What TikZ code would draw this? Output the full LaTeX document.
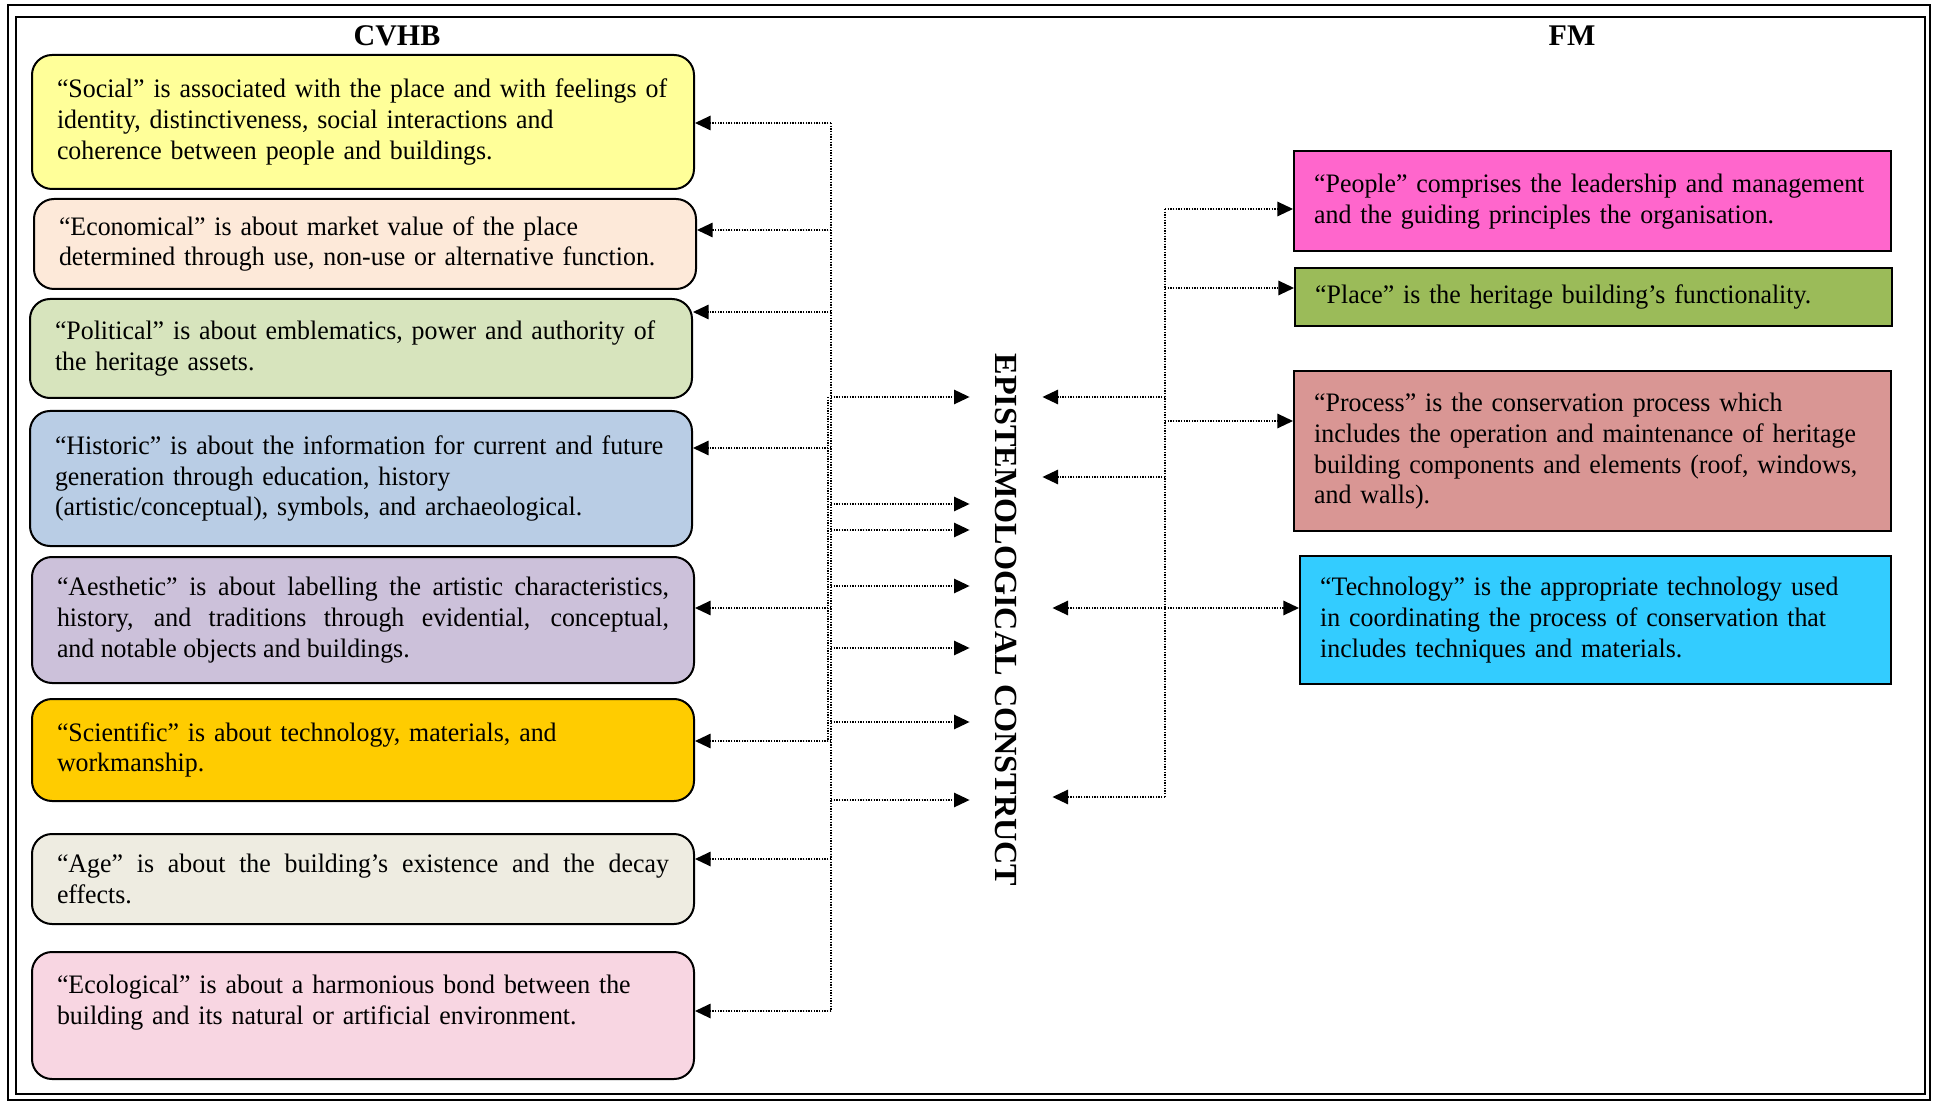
\documentclass[tikz,border=0pt]{standalone}
\usepackage{fontspec}
\setmainfont{Liberation Serif}
\newfontfamily\boxfont{Liberation Serif}[FakeStretch=0.97]
\usetikzlibrary{arrows.meta}

\begin{document}
\begin{tikzpicture}[x=0.45pt,y=-0.45pt,
  every node/.style={font=\boxfont\fontsize{12}{13.9}\selectfont},
  valbox/.style={draw=black, line width=0.9pt, rounded corners=9pt, anchor=north west,
    minimum width=297.9pt, text width=275.4pt, inner xsep=11.25pt, inner ysep=2pt, align=left},
  fmbox/.style={draw=black, line width=1.1pt, anchor=north west,
    minimum width=268.65pt, text width=250.65pt, inner xsep=9pt, inner ysep=2pt, align=left},
  hdr/.style={font=\bfseries\fontsize{13.5}{16}\selectfont},
  link/.style={line width=0.6pt, dash pattern=on 0.6pt off 0.6pt},
  arrowed/.style={-{Triangle[length=7pt,width=6.5pt]}}]
  \definecolor{socialC}{RGB}{255,255,153}
  \definecolor{econC}{RGB}{253,233,217}
  \definecolor{politicalC}{RGB}{215,228,189}
  \definecolor{historicC}{RGB}{185,205,229}
  \definecolor{aestheticC}{RGB}{204,193,218}
  \definecolor{scientificC}{RGB}{255,204,0}
  \definecolor{ageC}{RGB}{238,236,225}
  \definecolor{ecoC}{RGB}{248,214,226}
  \definecolor{peopleC}{RGB}{255,102,204}
  \definecolor{placeC}{RGB}{155,187,89}
  \definecolor{processC}{RGB}{217,150,148}
  \definecolor{techC}{RGB}{51,204,255}

  \useasboundingbox (0,0) rectangle (1933,1102);
  \draw[line width=0.9pt] (8,5) rectangle (1930,1100);
  \draw[line width=1.3pt] (16,17) rectangle (1925,1094);

  \node[hdr] (cvhb) at (397,36) {CVHB};
  \node[hdr] (fm) at (1572,36) {FM};

  \node[valbox, fill=socialC, minimum height=60.3pt] (social) at (31,54)
    {“Social” is associated with the place and with feelings of\\ identity, distinctiveness, social interactions and\\ coherence between people and buildings.};
  \node[valbox, fill=econC, minimum height=40.5pt] (econ) at (33,198)
    {“Economical” is about market value of the place\\ determined through use, non-use or alternative function.};
  \node[valbox, fill=politicalC, minimum height=44.55pt] (political) at (29,298)
    {“Political” is about emblematics, power and authority of\\ the heritage assets.};
  \node[valbox, fill=historicC, minimum height=60.75pt] (historic) at (29,410)
    {“Historic” is about the information for current and future\\ generation through education, history\\ (artistic/conceptual), symbols, and archaeological.};
  \node[valbox, fill=aestheticC, minimum height=56.7pt, align=justify] (aesthetic) at (31,556)
    {“Aesthetic” is about labelling the artistic characteristics, \linebreak history, and traditions through evidential, conceptual, \linebreak and notable objects and buildings.};
  \node[valbox, fill=scientificC, minimum height=45.9pt] (scientific) at (31,698)
    {“Scientific” is about technology, materials, and\\ workmanship.};
  \node[valbox, fill=ageC, minimum height=40.5pt, align=justify] (age) at (31,833)
    {“Age” is about the building’s existence and the decay \linebreak effects.};
  \node[valbox, fill=ecoC, minimum height=57.15pt] (eco) at (31,951)
    {“Ecological” is about a harmonious bond between the\\ building and its natural or artificial environment.\\ \mbox{}};

  \node[fmbox, fill=peopleC, minimum height=45pt] (people) at (1293,150)
    {“People” comprises the leadership and management\\ and the guiding principles the organisation.};
  \node[fmbox, fill=placeC, minimum height=26.1pt] (place) at (1294,267)
    {“Place” is the heritage building’s functionality.};
  \node[fmbox, fill=processC, minimum height=72pt] (process) at (1293,370)
    {“Process” is the conservation process which\\ includes the operation and maintenance of heritage\\ building components and elements (roof, windows,\\ and walls).};
  \node[fmbox, fill=techC, minimum height=57.6pt, minimum width=265.95pt, text width=247.95pt] (tech) at (1299,555)
    {“Technology” is the appropriate technology used\\ in coordinating the process of conservation that\\ includes techniques and materials.};

  \node[font=\bfseries\fontsize{14.5}{17}\selectfont, rotate=-90, minimum height=32.4pt, inner sep=0pt] (epi) at (1006,620) {EPISTEMOLOGICAL CONSTRUCT};

  \foreach \b/\y in {social/123, econ/230, political/312, historic/448, aesthetic/608, scientific/741, age/859, eco/1011} {
    \coordinate (l-\b) at (831,\y);
    \draw[link, arrowed] (l-\b) -- (l-\b -| \b.east);
  }
  \draw[link] (l-social) -- (l-eco);

  \foreach \y in {397,504,530,586,648,722,800} {
    \coordinate (li\y) at (831,\y);
    \draw[link, arrowed] (li\y) -- (li\y -| epi.south);
  }
  \draw[link] ([xshift=-1.35pt]li397) -- ([xshift=-1.35pt]l-scientific);

  \foreach \b/\y in {people/209, place/288, process/421, tech/608} {
    \coordinate (r-\b) at (1165,\y);
    \draw[link, arrowed] (r-\b) -- (r-\b -| \b.west);
  }
  \foreach \y/\s in {397/0pt, 477/0pt, 608/4.5pt, 797/4.5pt} {
    \coordinate (ri\y) at (1165,\y);
    \draw[link, arrowed, shorten >=\s] (ri\y) -- (ri\y -| epi.north);
  }
  \draw[link] (r-people) -- (ri797);
\end{tikzpicture}
\end{document}
